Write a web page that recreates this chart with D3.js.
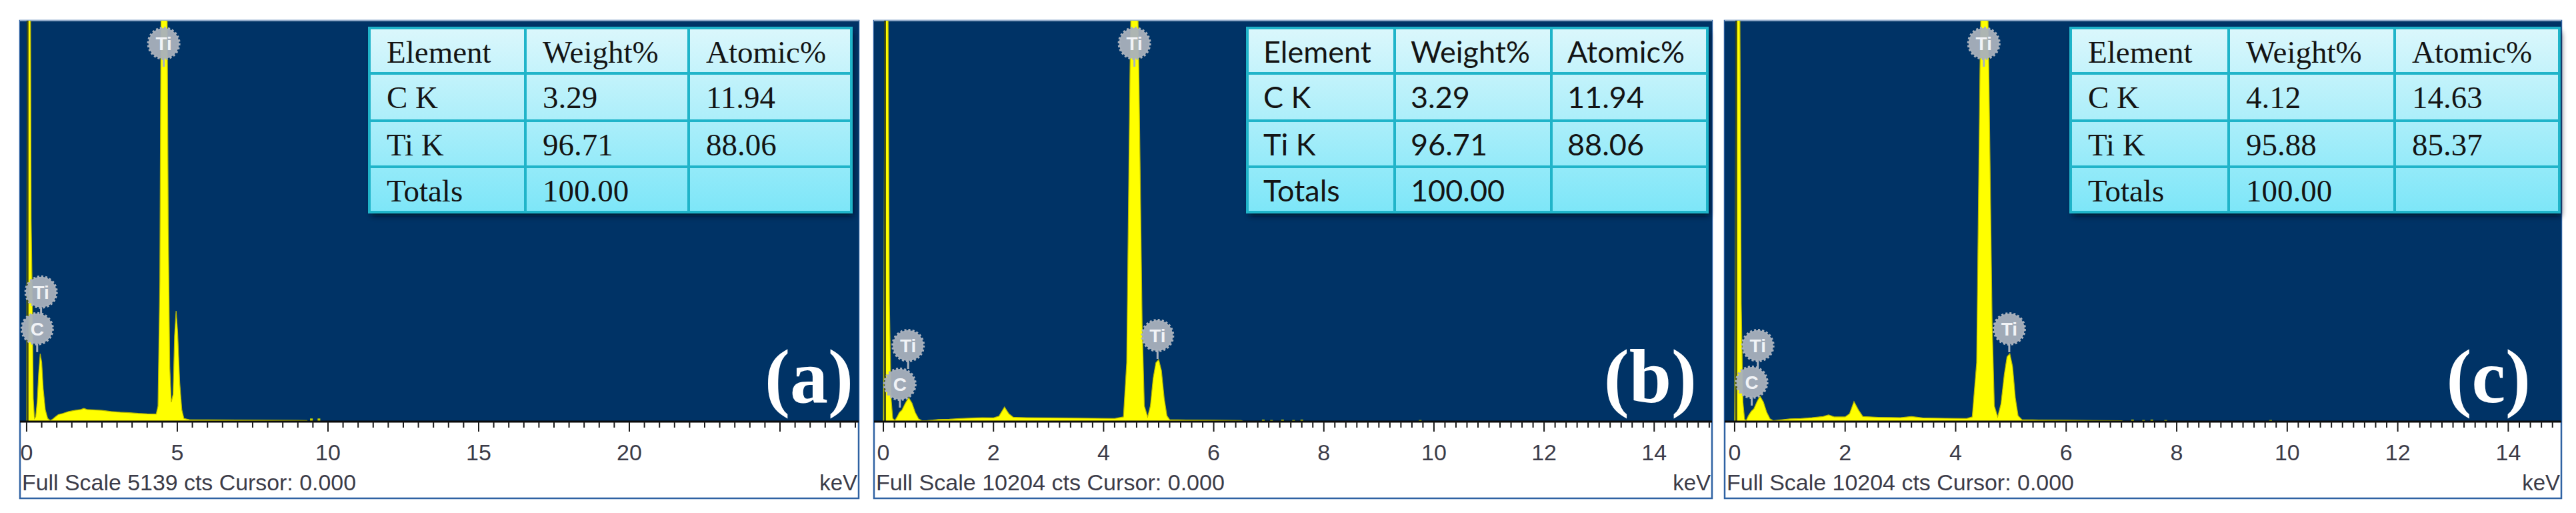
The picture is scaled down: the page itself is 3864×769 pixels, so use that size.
<!DOCTYPE html>
<html><head><meta charset="utf-8">
<script src="https://cdn.jsdelivr.net/npm/d3@7"></script>
<style>body{margin:0;background:#fff;} svg{display:block}</style>
</head><body><svg id="chart" width="3864" height="769"></svg>
<script>
// ---------------- DATA ----------------
const panelNames = ["(a)", "(b)", "(c)"];
const fullScale = [5139, 10204, 10204];
const footerTexts = ["Full Scale 5139 cts Cursor: 0.000", "Full Scale 10204 cts Cursor: 0.000", "Full Scale 10204 cts Cursor: 0.000"];
const xTickLabelsA = [0, 5, 10, 15, 20];
const xTickLabelsB = [0, 2, 4, 6, 8, 10, 12, 14];
const xTickLabelsC = [0, 2, 4, 6, 8, 10, 12, 14];
const unitLabel = "keV";

// spectra: [keV, counts]
const spectrumA = [[0,0],[0.01,2500],[0.03,9000],[0.10,9000],[0.15,2600],[0.19,1500],[0.22,300],[0.26,40],[0.30,60],[0.35,250],[0.40,620],[0.45,870],[0.50,760],[0.55,420],[0.62,150],[0.70,40],[0.78,15],[0.86,30],[0.95,60],[1.05,90],[1.2,105],[1.4,130],[1.6,145],[1.8,155],[1.9,170],[2.0,155],[2.2,150],[2.5,145],[2.8,130],[3.1,120],[3.4,115],[3.7,105],[4.0,100],[4.3,98],[4.36,200],[4.42,1800],[4.48,7000],[4.56,9500],[4.64,7000],[4.70,2500],[4.75,700],[4.80,250],[4.86,350],[4.91,1100],[4.96,1420],[5.01,1150],[5.08,500],[5.15,150],[5.22,40],[5.4,25],[6.0,22],[7.0,20],[8.0,18],[9.0,16],[9.3,14],[9.32,0]];
const spectrumB = [[0,0],[0.01,3000],[0.03,12000],[0.08,12000],[0.11,3000],[0.14,600],[0.17,80],[0.21,30],[0.25,120],[0.29,230],[0.34,300],[0.40,470],[0.46,610],[0.52,470],[0.58,230],[0.64,70],[0.70,25],[0.8,30],[0.9,40],[1.0,55],[1.2,60],[1.4,80],[1.6,90],[1.8,100],[2.0,95],[2.1,140],[2.2,370],[2.28,200],[2.36,110],[2.6,100],[3.0,95],[3.4,90],[3.8,85],[4.2,80],[4.36,120],[4.42,1500],[4.48,9000],[4.56,16000],[4.64,9000],[4.70,2500],[4.74,400],[4.80,120],[4.85,400],[4.90,1100],[4.95,1500],[5.00,1580],[5.05,1300],[5.10,600],[5.15,150],[5.2,50],[5.5,40],[6.0,35],[6.5,30],[6.55,0]];
const spectrumC = [[0,0],[0.01,3000],[0.03,12000],[0.09,12000],[0.12,3000],[0.15,500],[0.18,60],[0.21,30],[0.25,150],[0.30,260],[0.35,330],[0.41,520],[0.46,645],[0.52,500],[0.58,240],[0.64,70],[0.70,25],[0.8,40],[0.9,55],[1.0,70],[1.2,80],[1.4,100],[1.6,130],[1.7,170],[1.8,120],[2.0,120],[2.08,200],[2.16,510],[2.24,300],[2.32,130],[2.6,110],[3.0,100],[3.2,130],[3.4,95],[3.8,85],[4.2,80],[4.30,120],[4.38,1500],[4.44,9000],[4.52,16000],[4.60,9000],[4.66,2500],[4.70,400],[4.76,120],[4.82,450],[4.88,1200],[4.93,1650],[4.98,1730],[5.03,1400],[5.08,600],[5.13,150],[5.2,50],[5.5,40],[6.0,35],[6.5,30],[7.0,25],[7.05,0]];

// isolated counts specks beyond main spectrum [keV, counts]
const specksA = [[9.45,40],[9.7,40]];
const specksB = [[6.9,50],[7.05,40],[7.25,50],[7.45,40],[7.6,50],[9.75,40]];
const specksC = [[7.2,50],[7.4,40],[7.55,50],[7.8,40],[9.7,40]];

// element markers: [element, keV, counts]
const markersA = [["Ti",4.55,4848],["Ti",0.48,1660],["C",0.35,1190]];
const markersB = [["Ti",4.56,9627],["Ti",4.98,2190],["Ti",0.45,1936],["C",0.30,951]];
const markersC = [["Ti",4.51,9627],["Ti",4.97,2360],["Ti",0.42,1936],["C",0.31,1002]];

// quantification tables
const tableHeader = ["Element", "Weight%", "Atomic%"];
const tableRowsA = [["C K","3.29","11.94"],["Ti K","96.71","88.06"],["Totals","100.00",""]];
const tableRowsB = [["C K","3.29","11.94"],["Ti K","96.71","88.06"],["Totals","100.00",""]];
const tableRowsC = [["C K","4.12","14.63"],["Ti K","95.88","85.37"],["Totals","100.00",""]];

// ---------------- LAYOUT ----------------
const plotTop = 31, plotBottom = 632, panelBottom = 747;
const tableRowY = [42, 110, 181, 250, 318];
const layout = [
  {left:30, right:1288, domain:[-0.22, 27.61], minor:0.5, major:5,
   table:{x1:554, x2:1277, cols:[788,1033], font:"'Liberation Serif', 'Times New Roman', serif", size:47, pad:26},
   tagRight:1280, footerLen:501},
  {left:1311, right:2568, domain:[-0.17, 15.05], minor:0.2, major:2,
   table:{x1:1871, x2:2561, cols:[2092,2327], font:"Lato, 'Open Sans', sans-serif", size:45, pad:24},
   tagRight:2545, footerLen:523},
  {left:2587, right:3842, domain:[-0.18, 14.96], minor:0.2, major:2,
   table:{x1:3106, x2:3839, cols:[3343,3592], font:"'Liberation Serif', 'Times New Roman', serif", size:47, pad:26},
   tagRight:3796, footerLen:521}
];

const panels = [
  {name:panelNames[0], full:fullScale[0], footer:footerTexts[0], spec:spectrumA, specks:specksA, markers:markersA, ticks:xTickLabelsA, rows:tableRowsA, L:layout[0]},
  {name:panelNames[1], full:fullScale[1], footer:footerTexts[1], spec:spectrumB, specks:specksB, markers:markersB, ticks:xTickLabelsB, rows:tableRowsB, L:layout[1]},
  {name:panelNames[2], full:fullScale[2], footer:footerTexts[2], spec:spectrumC, specks:specksC, markers:markersC, ticks:xTickLabelsC, rows:tableRowsC, L:layout[2]}
];

// ---------------- DRAW ----------------
const svg = d3.select("#chart");
const defs = svg.append("defs");
const grad = defs.append("linearGradient").attr("id","tblGrad").attr("x1",0).attr("y1",0).attr("x2",0).attr("y2",1);
grad.append("stop").attr("offset","0%").attr("stop-color","#dbf7fc");
grad.append("stop").attr("offset","100%").attr("stop-color","#7de6f8");
const blur = defs.append("filter").attr("id","shadow").attr("x","-10%").attr("y","-10%").attr("width","130%").attr("height","140%");
blur.append("feGaussianBlur").attr("stdDeviation",4);

panels.forEach((p, i) => {
  const L = p.L;
  const g = svg.append("g");
  const x = d3.scaleLinear().domain(L.domain).range([L.left, L.right]);
  const y = d3.scaleLinear().domain([0, p.full]).range([plotBottom, plotTop]);

  // panel frame (white axis area)
  g.append("rect").attr("x", L.left).attr("y", plotTop).attr("width", L.right - L.left)
    .attr("height", panelBottom - plotTop).attr("fill", "#ffffff")
    .attr("stroke", "#2f62a3").attr("stroke-width", 2.5);
  // plot background
  g.append("rect").attr("x", L.left).attr("y", plotTop).attr("width", L.right - L.left)
    .attr("height", plotBottom - plotTop).attr("fill", "#003366");
  g.append("line").attr("x1", L.left).attr("x2", L.right).attr("y1", plotTop).attr("y2", plotTop)
    .attr("stroke", "#b6c6da").attr("stroke-width", 1.5);

  const cid = "clip" + i;
  defs.append("clipPath").attr("id", cid).append("rect")
    .attr("x", L.left).attr("y", plotTop).attr("width", L.right - L.left).attr("height", plotBottom - plotTop);
  const plot = g.append("g").attr("clip-path", `url(#${cid})`);

  // spectrum
  const area = d3.area().x(d => x(d[0])).y0(y(0)).y1(d => y(d[1]));
  plot.append("path").datum(p.spec).attr("d", area)
    .attr("fill", "#ffff00").attr("stroke", "#b8b800").attr("stroke-width", 1.2);
  plot.selectAll("rect.speck").data(p.specks).join("rect").attr("class","speck")
    .attr("x", d => x(d[0]) - 2).attr("width", 4)
    .attr("y", d => y(d[1])).attr("height", d => y(0) - y(d[1]))
    .attr("fill", "#c9d400");
  // cursor line at 0 keV
  plot.append("line").attr("x1", x(0.03)).attr("x2", x(0.03)).attr("y1", plotTop).attr("y2", plotBottom)
    .attr("stroke", "#26351f").attr("stroke-width", 3).attr("opacity", 0.85);

  // element markers
  const r = 23;
  const mk = plot.selectAll("g.mk").data(p.markers).join("g").attr("class","mk")
    .attr("transform", d => `translate(${x(d[1])},${y(d[2])})`);
  mk.append("line").attr("x1",0).attr("x2",0).attr("y1",r).attr("y2",r+12)
    .attr("stroke","#aab2bd").attr("stroke-width",3);
  mk.append("circle").attr("r", r).attr("fill", "#a9b1bc").attr("fill-opacity",0.95)
    .attr("stroke","#a9b1bc").attr("stroke-width",4).attr("stroke-dasharray","3,3");
  mk.append("text").text(d => d[0]).attr("text-anchor","middle").attr("dy","0.36em")
    .attr("font-family","'Liberation Sans', Arial, sans-serif").attr("font-weight","bold")
    .attr("font-size", 28).attr("fill","#f1f3f6");

  // panel tag (a)/(b)/(c)
  g.append("text").text(p.name).attr("x", L.tagRight).attr("y", 603).attr("text-anchor","end")
    .attr("font-family","'Liberation Serif', 'Times New Roman', serif").attr("font-weight","bold")
    .attr("font-size", 114).attr("fill","#ffffff");

  // table
  const T = L.table;
  const tb = g.append("g");
  tb.append("rect").attr("x", T.x1 + 3).attr("y", tableRowY[0] + 6).attr("width", T.x2 - T.x1)
    .attr("height", tableRowY[4] - tableRowY[0]).attr("fill", "#000a1a").attr("opacity", 0.7)
    .attr("filter","url(#shadow)");
  tb.append("rect").attr("x", T.x1).attr("y", tableRowY[0]).attr("width", T.x2 - T.x1)
    .attr("height", tableRowY[4] - tableRowY[0]).attr("fill", "url(#tblGrad)")
    .attr("stroke", "#20b4c9").attr("stroke-width", 4);
  tableRowY.slice(1, 4).forEach(ry => {
    tb.append("line").attr("x1", T.x1).attr("x2", T.x2).attr("y1", ry).attr("y2", ry)
      .attr("stroke", "#20b4c9").attr("stroke-width", 4);
  });
  T.cols.forEach(cx => {
    tb.append("line").attr("x1", cx).attr("x2", cx).attr("y1", tableRowY[0]).attr("y2", tableRowY[4])
      .attr("stroke", "#20b4c9").attr("stroke-width", 4);
  });
  const allRows = [tableHeader].concat(p.rows);
  const colX = [T.x1].concat(T.cols);
  allRows.forEach((row, ri) => {
    row.forEach((cell, ci) => {
      tb.append("text").text(cell).attr("x", colX[ci] + T.pad).attr("y", tableRowY[ri] + 52)
        .attr("font-family", T.font).attr("font-size", T.size).attr("fill", "#141414");
    });
  });

  // axis
  const ax = g.append("g");
  ax.append("line").attr("x1", L.left).attr("x2", L.right).attr("y1", plotBottom).attr("y2", plotBottom)
    .attr("stroke", "#0a0a0a").attr("stroke-width", 3);
  const nTicks = Math.floor(L.domain[1] / L.minor + 1e-6);
  const tickVals = d3.range(0, nTicks + 1).map(k => k * L.minor);
  ax.selectAll("line.tk").data(tickVals).join("line").attr("class","tk")
    .attr("x1", d => x(d)).attr("x2", d => x(d)).attr("y1", plotBottom)
    .attr("y2", d => plotBottom + (Math.abs(d / L.major - Math.round(d / L.major)) < 1e-6 ? 15 : 9))
    .attr("stroke", "#1a1a1a").attr("stroke-width", 2);
  ax.selectAll("text.tl").data(p.ticks).join("text").attr("class","tl")
    .attr("x", d => x(d)).attr("y", 690).attr("text-anchor","middle").text(d => d)
    .attr("font-family","'Liberation Sans', Arial, sans-serif").attr("font-size", 34)
    .attr("fill","#3b3b48");
  g.append("text").text(p.footer).attr("x", L.left + 3).attr("y", 735)
    .attr("textLength", L.footerLen).attr("lengthAdjust","spacingAndGlyphs")
    .attr("font-family","'Liberation Sans', Arial, sans-serif").attr("font-size", 33)
    .attr("fill","#3b3b48");
  g.append("text").text(unitLabel).attr("x", L.right - 2).attr("y", 735).attr("text-anchor","end")
    .attr("font-family","'Liberation Sans', Arial, sans-serif").attr("font-size", 33)
    .attr("fill","#3b3b48");
});
</script></body></html>
